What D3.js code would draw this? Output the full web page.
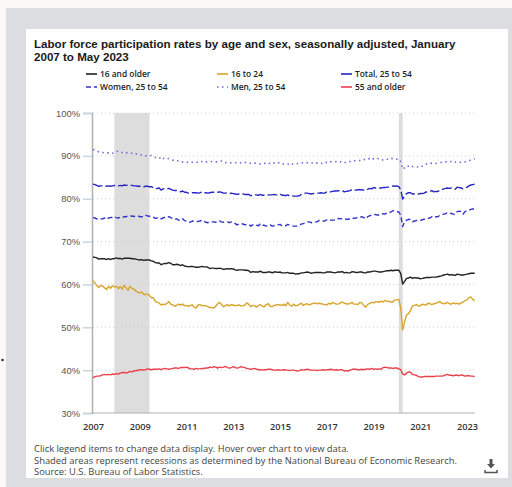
<!DOCTYPE html>
<html>
<head>
<meta charset="utf-8">
<script src="https://cdn.jsdelivr.net/npm/d3@7"></script>
<style>
  body { margin: 0; background: #fcf8f7; }
  svg { display: block; }
</style>
</head>
<body>
<div id="chart"></div>
<script>
// monthly values, January 2007 to May 2023
var all16 = [
  66.4, 66.3, 66.2, 65.9, 66.0, 66.0, 66.0, 65.8, 66.0, 65.8, 66.0, 66.0,
  66.2, 66.0, 66.1, 65.9, 66.1, 66.1, 66.1, 66.1, 66.0, 66.0, 65.9, 65.8,
  65.7, 65.8, 65.6, 65.7, 65.7, 65.7, 65.5, 65.4, 65.1, 65.0, 65.0, 64.6,
  64.8, 64.9, 64.9, 65.1, 64.9, 64.6, 64.6, 64.7, 64.6, 64.4, 64.6, 64.3,
  64.2, 64.1, 64.2, 64.2, 64.1, 64.0, 64.0, 64.1, 64.2, 64.1, 64.1, 64.0,
  63.7, 63.8, 63.8, 63.7, 63.7, 63.8, 63.7, 63.5, 63.6, 63.7, 63.6, 63.7,
  63.6, 63.4, 63.3, 63.4, 63.4, 63.4, 63.3, 63.3, 63.2, 62.8, 63.0, 62.9,
  62.9, 62.9, 63.1, 62.8, 62.8, 62.8, 62.9, 62.9, 62.7, 62.9, 62.9, 62.8,
  62.9, 62.7, 62.7, 62.7, 62.8, 62.6, 62.6, 62.6, 62.4, 62.5, 62.5, 62.7,
  62.7, 62.8, 62.9, 62.8, 62.6, 62.7, 62.8, 62.8, 62.8, 62.8, 62.7, 62.7,
  62.9, 62.9, 62.9, 62.8, 62.7, 62.8, 62.9, 62.9, 63.0, 62.7, 62.8, 62.7,
  62.7, 63.0, 62.9, 62.8, 62.8, 62.9, 62.9, 62.7, 62.7, 62.9, 62.9, 63.0,
  63.1, 63.1, 63.0, 62.9, 62.9, 63.0, 63.1, 63.2, 63.2, 63.3, 63.2, 63.3,
  63.3, 63.3, 62.6, 60.1, 60.7, 61.4, 61.5, 61.7, 61.4, 61.6, 61.5, 61.5,
  61.3, 61.4, 61.5, 61.6, 61.6, 61.6, 61.7, 61.7, 61.7, 61.8, 61.9, 62.0,
  62.2, 62.3, 62.4, 62.2, 62.3, 62.2, 62.1, 62.4, 62.3, 62.2, 62.2, 62.3,
  62.4, 62.5, 62.6, 62.6, 62.6
];
var age16to24 = [
  60.9, 60.3, 59.7, 59.3, 59.8, 59.6, 59.2, 58.8, 59.6, 59.1, 59.7, 59.4,
  59.6, 59.0, 59.5, 58.9, 59.8, 59.2, 58.6, 59.6, 59.1, 58.9, 58.5, 58.2,
  58.0, 58.3, 57.7, 57.6, 57.8, 57.4, 56.9, 56.9, 56.0, 55.9, 55.6, 55.2,
  55.4, 55.3, 55.6, 56.0, 55.4, 55.2, 54.9, 55.1, 55.4, 55.2, 55.4, 55.0,
  55.1, 54.9, 55.1, 55.2, 54.7, 54.5, 55.2, 55.3, 55.0, 55.1, 55.0, 54.8,
  54.6, 54.6, 54.5, 54.9, 55.5, 55.8, 55.3, 54.8, 55.0, 55.3, 55.0, 55.3,
  55.2, 55.0, 55.1, 55.2, 55.0, 55.0, 55.2, 55.7, 55.3, 54.8, 55.1, 55.0,
  54.7, 55.1, 55.3, 54.9, 54.8, 55.3, 55.5, 54.9, 54.8, 55.1, 55.2, 55.3,
  55.2, 55.1, 55.4, 55.0, 55.8, 55.2, 54.9, 55.4, 55.0, 55.1, 55.4, 55.6,
  55.1, 55.4, 55.5, 55.2, 55.4, 55.6, 55.7, 55.5, 55.6, 55.5, 55.4, 55.3,
  55.2, 55.6, 55.4, 55.8, 55.6, 55.4, 55.4, 55.7, 55.9, 55.6, 55.5, 55.4,
  55.6, 55.8, 55.4, 55.4, 55.3, 55.8, 55.7, 55.1, 54.7, 55.3, 55.6, 55.8,
  55.7, 55.9, 56.0, 55.8, 56.1, 55.9, 56.3, 56.0, 56.1, 55.9, 55.9, 56.4,
  56.4, 56.5, 54.5, 49.4, 51.3, 52.9, 53.2, 53.9, 55.0, 55.1, 55.3, 55.0,
  55.0, 55.4, 55.3, 55.2, 55.6, 55.5, 55.3, 55.5, 55.6, 55.8, 56.0, 55.6,
  55.5, 55.6, 55.8, 55.5, 55.4, 55.7, 55.5, 55.6, 55.4, 55.7, 55.9, 56.2,
  56.4, 56.9, 57.1, 56.5, 56.2
];
var total25to54 = [
  83.4, 83.3, 83.1, 82.9, 83.0, 83.0, 83.1, 82.9, 83.0, 82.9, 83.0, 83.1,
  83.1, 83.0, 83.1, 83.0, 83.2, 83.1, 83.2, 83.2, 83.1, 83.0, 83.0, 82.9,
  82.9, 82.9, 82.8, 82.9, 82.9, 82.8, 82.8, 82.6, 82.3, 82.4, 82.5, 82.0,
  82.3, 82.4, 82.3, 82.4, 82.2, 82.0, 81.9, 81.9, 81.8, 81.6, 81.8, 81.5,
  81.5, 81.3, 81.3, 81.4, 81.4, 81.4, 81.3, 81.4, 81.6, 81.4, 81.4, 81.3,
  81.4, 81.5, 81.5, 81.4, 81.5, 81.6, 81.5, 81.3, 81.3, 81.4, 81.2, 81.3,
  81.2, 81.1, 81.0, 81.1, 81.1, 81.1, 81.0, 81.0, 81.0, 80.7, 80.8, 80.9,
  80.9, 80.8, 81.0, 80.8, 80.8, 80.8, 80.9, 80.9, 80.9, 81.0, 80.9, 80.9,
  81.1, 80.8, 80.8, 80.7, 80.9, 80.6, 80.7, 80.6, 80.6, 80.6, 80.7, 81.0,
  81.1, 81.3, 81.3, 81.2, 81.1, 81.2, 81.3, 81.3, 81.3, 81.4, 81.3, 81.3,
  81.6, 81.6, 81.6, 81.7, 81.8, 81.8, 81.9, 81.8, 81.9, 81.6, 81.7, 81.8,
  81.9, 82.2, 82.0, 82.0, 82.1, 82.1, 82.1, 82.0, 81.9, 82.2, 82.4, 82.3,
  82.6, 82.5, 82.6, 82.5, 82.5, 82.6, 82.6, 82.7, 82.7, 82.8, 83.0, 82.9,
  83.0, 82.8, 82.1, 79.9, 80.7, 81.2, 81.4, 81.4, 81.1, 81.1, 81.1, 81.1,
  81.2, 81.2, 81.3, 81.6, 81.5, 81.7, 81.9, 81.6, 81.7, 81.7, 81.9, 82.1,
  82.3, 82.4, 82.5, 82.4, 82.5, 82.3, 82.2, 82.7, 82.6, 82.5, 82.3, 82.4,
  82.7, 83.0, 83.2, 83.3, 83.4
];
var women25to54 = [
  75.6, 75.5, 75.3, 75.1, 75.3, 75.3, 75.5, 75.2, 75.5, 75.6, 75.6, 75.8,
  75.6, 75.5, 75.7, 75.6, 75.8, 75.8, 76.0, 76.1, 75.9, 75.9, 75.8, 76.0,
  75.8, 75.8, 75.8, 76.1, 76.0, 75.9, 75.8, 75.7, 75.4, 75.5, 75.6, 75.3,
  75.5, 75.7, 75.6, 75.8, 75.6, 75.3, 75.2, 75.3, 75.0, 74.9, 75.3, 74.9,
  74.8, 74.6, 74.5, 74.8, 74.7, 74.7, 74.7, 74.8, 75.0, 74.7, 74.5, 74.4,
  74.6, 74.6, 74.6, 74.5, 74.7, 74.8, 74.6, 74.5, 74.6, 74.6, 74.4, 74.6,
  74.5, 74.2, 73.9, 74.1, 74.2, 74.1, 73.9, 74.0, 74.0, 73.6, 73.9, 74.0,
  73.8, 73.7, 74.2, 73.8, 73.8, 73.6, 73.7, 73.9, 73.6, 73.7, 73.9, 73.9,
  74.0, 73.7, 73.8, 73.7, 74.0, 73.8, 73.7, 73.6, 73.6, 73.6, 73.8, 74.1,
  74.2, 74.4, 74.6, 74.6, 74.4, 74.5, 74.6, 74.6, 74.9, 74.9, 74.8, 74.8,
  75.1, 75.2, 75.0, 75.0, 75.0, 75.0, 75.4, 75.3, 75.4, 75.2, 75.2, 75.2,
  75.3, 75.6, 75.4, 75.5, 75.6, 75.6, 75.8, 75.6, 75.3, 75.8, 76.0, 76.2,
  76.3, 76.3, 76.2, 76.2, 76.3, 76.5, 76.4, 76.7, 76.8, 76.9, 77.2, 77.0,
  77.0, 76.9, 76.2, 73.5, 74.6, 75.0, 75.2, 75.1, 74.6, 74.8, 74.9, 74.9,
  74.9, 75.1, 75.2, 75.4, 75.4, 75.5, 75.8, 75.6, 75.8, 75.8, 76.1, 76.2,
  76.4, 76.5, 76.7, 76.5, 76.6, 76.4, 76.3, 77.0, 77.1, 77.0, 76.4, 77.0,
  77.2, 77.3, 77.5, 77.6, 77.8
];
var men25to54 = [
  91.5, 91.3, 91.2, 90.9, 90.8, 90.8, 90.7, 90.6, 90.7, 90.5, 90.6, 90.7,
  91.0, 91.1, 90.9, 90.8, 90.9, 90.7, 90.8, 90.6, 90.6, 90.4, 90.5, 90.3,
  90.3, 90.2, 90.1, 90.0, 90.1, 90.0, 90.1, 89.9, 89.6, 89.6, 89.7, 89.1,
  89.4, 89.5, 89.3, 89.4, 89.2, 89.0, 89.0, 88.8, 88.9, 88.7, 88.6, 88.5,
  88.6, 88.4, 88.5, 88.5, 88.6, 88.6, 88.4, 88.5, 88.7, 88.5, 88.6, 88.6,
  88.6, 88.7, 88.7, 88.6, 88.6, 88.7, 88.8, 88.5, 88.4, 88.5, 88.4, 88.4,
  88.4, 88.4, 88.5, 88.3, 88.4, 88.5, 88.5, 88.3, 88.4, 88.2, 88.2, 88.3,
  88.3, 88.3, 88.1, 88.1, 88.2, 88.4, 88.3, 88.2, 88.5, 88.3, 88.2, 88.3,
  88.5, 88.2, 88.1, 88.1, 88.1, 87.9, 88.2, 88.0, 88.1, 88.2, 88.2, 88.3,
  88.4, 88.5, 88.4, 88.3, 88.3, 88.4, 88.5, 88.3, 88.4, 88.2, 88.3, 88.2,
  88.5, 88.4, 88.6, 88.7, 88.6, 88.7, 88.5, 88.6, 88.5, 88.3, 88.6, 88.7,
  88.7, 88.9, 88.9, 88.8, 88.9, 88.9, 89.1, 89.2, 89.0, 89.1, 89.4, 89.1,
  89.3, 89.2, 89.4, 89.3, 89.0, 89.1, 89.3, 89.2, 89.4, 89.5, 89.3, 89.2,
  89.2, 89.3, 88.6, 86.9, 87.2, 87.7, 87.6, 87.8, 87.5, 87.4, 87.5, 87.4,
  87.7, 87.6, 87.9, 88.1, 88.0, 88.2, 88.3, 88.3, 88.2, 88.3, 88.4, 88.5,
  88.6, 88.6, 88.7, 88.6, 88.7, 88.4, 88.5, 88.6, 88.5, 88.5, 88.4, 88.6,
  88.7, 88.9, 89.0, 89.2, 89.3
];
var age55plus = [
  38.2, 38.5, 38.6, 38.6, 38.7, 38.9, 39.0, 38.9, 39.0, 38.9, 39.1, 39.0,
  39.2, 39.1, 39.3, 39.4, 39.5, 39.3, 39.5, 39.7, 39.6, 39.8, 39.9, 39.9,
  40.1, 40.1, 40.0, 40.1, 40.3, 40.2, 40.1, 40.2, 40.2, 40.2, 40.3, 40.1,
  40.3, 40.4, 40.3, 40.2, 40.3, 40.4, 40.5, 40.5, 40.4, 40.6, 40.6, 40.6,
  40.7, 40.5, 40.3, 40.3, 40.2, 40.4, 40.3, 40.3, 40.4, 40.4, 40.5, 40.5,
  40.7, 40.6, 40.8, 40.7, 40.5, 40.7, 40.6, 40.7, 40.9, 40.6, 40.5, 40.6,
  40.8, 40.6, 40.5, 40.6, 40.8, 40.7, 40.6, 40.4, 40.3, 40.2, 40.3, 40.4,
  40.2, 40.1, 40.1, 40.0, 40.1, 40.1, 40.2, 40.2, 40.1, 40.0, 40.0, 40.1,
  40.0, 40.0, 40.1, 40.0, 40.0, 39.9, 40.0, 40.0, 39.9, 39.8, 39.9, 40.1,
  40.0, 40.1, 40.2, 40.1, 40.0, 40.0, 40.0, 39.9, 40.0, 40.0, 40.1, 40.0,
  40.1, 40.1, 40.2, 40.1, 40.0, 40.1, 40.0, 40.1, 40.1, 39.8, 39.9, 39.8,
  40.0, 40.2, 40.2, 40.2, 40.1, 40.1, 40.2, 40.1, 40.2, 40.3, 40.2, 40.4,
  40.2, 40.3, 40.2, 40.3, 40.2, 40.6, 40.7, 40.6, 40.5, 40.5, 40.4, 40.5,
  40.5, 40.3, 40.1, 39.1, 38.9, 39.3, 39.6, 39.5, 39.0, 38.9, 38.8, 38.5,
  38.4, 38.4, 38.5, 38.5, 38.5, 38.5, 38.5, 38.5, 38.6, 38.6, 38.6, 38.6,
  38.7, 38.9, 39.0, 38.8, 38.8, 38.7, 38.8, 38.8, 38.7, 38.9, 38.8, 38.6,
  38.7, 38.7, 38.6, 38.6, 38.5
];

var seriesNames = ["16 and older", "16 to 24", "Total, 25 to 54", "Women, 25 to 54", "Men, 25 to 54", "55 and older"];
var seriesValues = [all16, age16to24, total25to54, women25to54, men25to54, age55plus];
var seriesColors = ["#222222", "#d9a42b", "#2626c4", "#3232cc", "#6c6ce0", "#e8414b"];
var seriesDash = [null, null, "10,3", "5,3", "1.5,3.5", null];

// recessions (NBER)
var recessions = [["2007-12-01", "2009-06-01"], ["2020-02-01", "2020-04-01"]];
var yTicks = [30, 40, 50, 60, 70, 80, 90, 100];
var xTickYears = [2007, 2009, 2011, 2013, 2015, 2017, 2019, 2021, 2023];

var W = 512, H = 487;
var parse = d3.timeParse("%Y-%m-%d");
var startDate = new Date(2007, 0, 1);

var svg = d3.select("#chart").append("svg")
    .attr("width", W)
    .attr("height", H);

// backgrounds
svg.append("rect").attr("x", 6).attr("y", 8).attr("width", W - 6).attr("height", H - 8).attr("fill", "#dcdde1");
svg.append("rect").attr("x", 26).attr("y", 29).attr("width", 482).attr("height", 449).attr("fill", "#ffffff");
svg.append("circle").attr("cx", 2.5).attr("cy", 360).attr("r", 1.3).attr("fill", "#333");

// title
var title = svg.append("text")
    .attr("x", 34).attr("y", 48)
    .attr("font-family", "Liberation Sans, Arial, sans-serif")
    .attr("font-weight", "bold")
    .attr("font-size", 11.6)
    .attr("fill", "#1a1a1a");
title.append("tspan").attr("x", 34).attr("y", 48).text("Labor force participation rates by age and sex, seasonally adjusted, January");
title.append("tspan").attr("x", 34).attr("y", 61).text("2007 to May 2023");

// legend
var legendX = [86, 217, 341];
var legendY = [74, 87];
var legend = svg.append("g");
seriesNames.forEach(function (name, i) {
    var lx = legendX[i % 3], ly = legendY[Math.floor(i / 3)];
    var g = legend.append("g").attr("transform", "translate(" + lx + "," + ly + ")");
    g.append("line")
        .attr("x1", 0).attr("x2", 11).attr("y1", 0).attr("y2", 0)
        .attr("stroke", seriesColors[i])
        .attr("stroke-width", 1.6)
        .attr("stroke-dasharray", i === 2 ? null : seriesDash[i]);
    g.append("text")
        .attr("x", 14).attr("y", 3)
        .attr("font-family", "Open Sans, sans-serif")
        .attr("font-weight", 600)
        .attr("font-size", 8.4)
        .attr("fill", "#222")
        .text(name);
});

// scales
var x = d3.scaleTime()
    .domain([new Date(2007, 0, 1), new Date(2023, 0, 1)])
    .range([93, 467]);
var y = d3.scaleLinear().domain([30, 100]).range([413, 113]);

function monthDate(i) { return d3.timeMonth.offset(startDate, i); }

// recession shading
svg.append("g").selectAll("rect")
    .data(recessions).enter().append("rect")
    .attr("x", function (d) { return x(parse(d[0])); })
    .attr("width", function (d) { return x(parse(d[1])) - x(parse(d[0])); })
    .attr("y", y(100))
    .attr("height", y(30) - y(100))
    .attr("fill", "#dddddd");

// gridlines
svg.append("g").selectAll("line")
    .data(yTicks.slice(1)).enter().append("line")
    .attr("x1", 93).attr("x2", 475)
    .attr("y1", function (d) { return y(d); })
    .attr("y2", function (d) { return y(d); })
    .attr("stroke", "#cfcfcf")
    .attr("stroke-width", 1)
    .attr("stroke-dasharray", "1,3");

// y axis
var yAxis = svg.append("g")
    .attr("transform", "translate(92,0)")
    .call(d3.axisLeft(y).tickValues(yTicks).tickSize(9).tickPadding(3).tickFormat(function (d) { return d + "%"; }));
yAxis.select(".domain").attr("stroke", "#b0b0b0").attr("stroke-width", 1.5);
yAxis.selectAll(".tick line").attr("stroke", "#c9d5e3").attr("stroke-width", 1.5);
yAxis.selectAll(".tick text")
    .attr("font-family", "Liberation Sans, Arial, sans-serif")
    .attr("font-size", 9.4)
    .attr("fill", "#555");

// x axis
var xAxis = svg.append("g")
    .attr("transform", "translate(0,413)")
    .call(d3.axisBottom(x)
        .tickValues(xTickYears.map(function (yr) { return new Date(yr, 0, 1); }))
        .tickSize(0).tickPadding(10)
        .tickFormat(d3.timeFormat("%Y")));
xAxis.select(".domain").attr("stroke", "#b0b0b0").attr("stroke-width", 1.2)
    .attr("d", "M92,0H475");
xAxis.selectAll(".tick text")
    .attr("font-family", "Open Sans, sans-serif")
    .attr("font-weight", 600)
    .attr("font-size", 9.2)
    .attr("fill", "#333");

// lines
var line = d3.line()
    .x(function (d, i) { return x(monthDate(i)); })
    .y(function (d) { return y(d); });

var drawOrder = [5, 1, 0, 3, 2, 4];
drawOrder.forEach(function (i) {
    svg.append("path")
        .datum(seriesValues[i])
        .attr("d", line)
        .attr("fill", "none")
        .attr("stroke", seriesColors[i])
        .attr("stroke-width", i === 4 ? 1.6 : 1.4)
        .attr("stroke-linejoin", "round")
        .attr("stroke-dasharray", seriesDash[i]);
});

// footer
var notes = [
    "Click legend items to change data display. Hover over chart to view data.",
    "Shaded areas represent recessions as determined by the National Bureau of Economic Research.",
    "Source: U.S. Bureau of Labor Statistics."
];
svg.append("g").selectAll("text")
    .data(notes).enter().append("text")
    .attr("x", 34)
    .attr("y", function (d, i) { return 452 + i * 11.7; })
    .attr("font-family", "Open Sans, sans-serif")
    .attr("font-size", 9.4)
    .attr("fill", "#444")
    .text(function (d) { return d; });

// download icon
var icon = svg.append("g").attr("transform", "translate(491,466)").attr("fill", "#555").attr("stroke", "#555");
icon.append("path").attr("d", "M-1.5,-7H1.5V-2H4L0,2.5L-4,-2H-1.5Z").attr("stroke", "none");
icon.append("path").attr("d", "M-6,4V6.5H6V4").attr("fill", "none").attr("stroke-width", 1.5);
</script>
</body>
</html>
